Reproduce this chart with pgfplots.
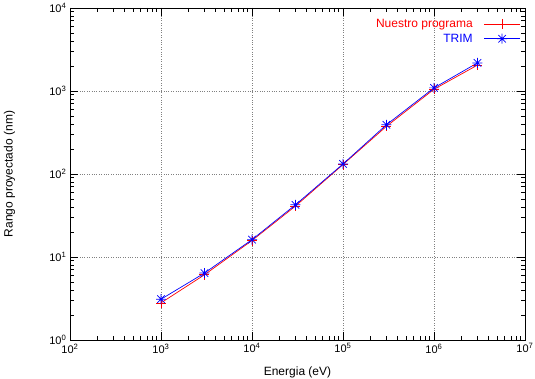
\documentclass[border=0pt]{standalone}
\usepackage{fontspec}
\setmainfont{Liberation Sans}
\usepackage{pgfplots}
\pgfplotsset{compat=1.18}
\pgfdeclareplotmark{plusx}{%
  \pgfpathmoveto{\pgfqpoint{-\pgfplotmarksize}{0pt}}\pgfpathlineto{\pgfqpoint{\pgfplotmarksize}{0pt}}%
  \pgfpathmoveto{\pgfqpoint{0pt}{-\pgfplotmarksize}}\pgfpathlineto{\pgfqpoint{0pt}{\pgfplotmarksize}}%
  \pgfpathmoveto{\pgfqpoint{-0.75\pgfplotmarksize}{-0.75\pgfplotmarksize}}\pgfpathlineto{\pgfqpoint{0.75\pgfplotmarksize}{0.75\pgfplotmarksize}}%
  \pgfpathmoveto{\pgfqpoint{-0.75\pgfplotmarksize}{0.75\pgfplotmarksize}}\pgfpathlineto{\pgfqpoint{0.75\pgfplotmarksize}{-0.75\pgfplotmarksize}}%
  \pgfusepathqstroke}
\begin{document}
\fontsize{10.5}{12}\selectfont
\begin{tikzpicture}
\begin{loglogaxis}[
  name=ax,
  scale only axis,
  width=455pt, height=332pt,
  xmin=1e2, xmax=1e7, ymin=1, ymax=1e4,
  xtick={1e2,1e3,1e4,1e5,1e6,1e7},
  xticklabels={10\textsuperscript{2},10\textsuperscript{3},10\textsuperscript{4},10\textsuperscript{5},10\textsuperscript{6},10\textsuperscript{7}},
  ytick={1,1e1,1e2,1e3,1e4},
  yticklabels={10\textsuperscript{0},10\textsuperscript{1},10\textsuperscript{2},10\textsuperscript{3},10\textsuperscript{4}},
  tick align=inside,
  major tick length=8pt, minor tick length=4pt,
  tick style={black, line width=0.8pt},
  axis line style={line width=0.8pt},
  grid=major,
  major grid style={gray, dotted, line width=0.6pt},
  xlabel={Energia (eV)},
  ylabel={Rango proyectado (nm)},
  xlabel style={yshift=-6pt},
  ylabel style={yshift=27pt},
  ticklabel style={font=\fontsize{11}{12}\selectfont},
  label style={font=\fontsize{12}{14}\selectfont},
  legend style={at={(0.997,0.978)}, anchor=north east, draw=none, fill=none,
    font=\fontsize{12}{14}\selectfont, row sep=0.5pt},
  legend cell align=right,
  legend plot pos=right,
  legend image code/.code={\draw[mark repeat=2,mark phase=2,#1] plot coordinates {(0pt,0pt) (18pt,0pt) (36pt,0pt)};},
]
\addplot[color=red, line width=0.7pt, mark=+, mark size=5pt] coordinates {
 (1e3,2.8) (3e3,6.1) (1e4,15.8) (3e4,41) (1e5,130) (3e5,375) (1e6,1050) (3e6,2050)};
\addlegendentry{\textcolor{red}{Nuestro programa}\rule{9pt}{0pt}}
\addplot[color=blue, line width=0.7pt, mark=plusx, mark size=5pt] coordinates {
 (1e3,3.1) (3e3,6.4) (1e4,16.2) (3e4,42.5) (1e5,132) (3e5,392) (1e6,1090) (3e6,2180)};
\addlegendentry{\textcolor{blue}{TRIM}\rule{9pt}{0pt}}
\end{loglogaxis}
\pgfresetboundingbox
\path[use as bounding box] ([shift={(-70pt,-39pt)}]ax.south west) rectangle ([shift={(10pt,8pt)}]ax.north east);
\end{tikzpicture}
\end{document}
